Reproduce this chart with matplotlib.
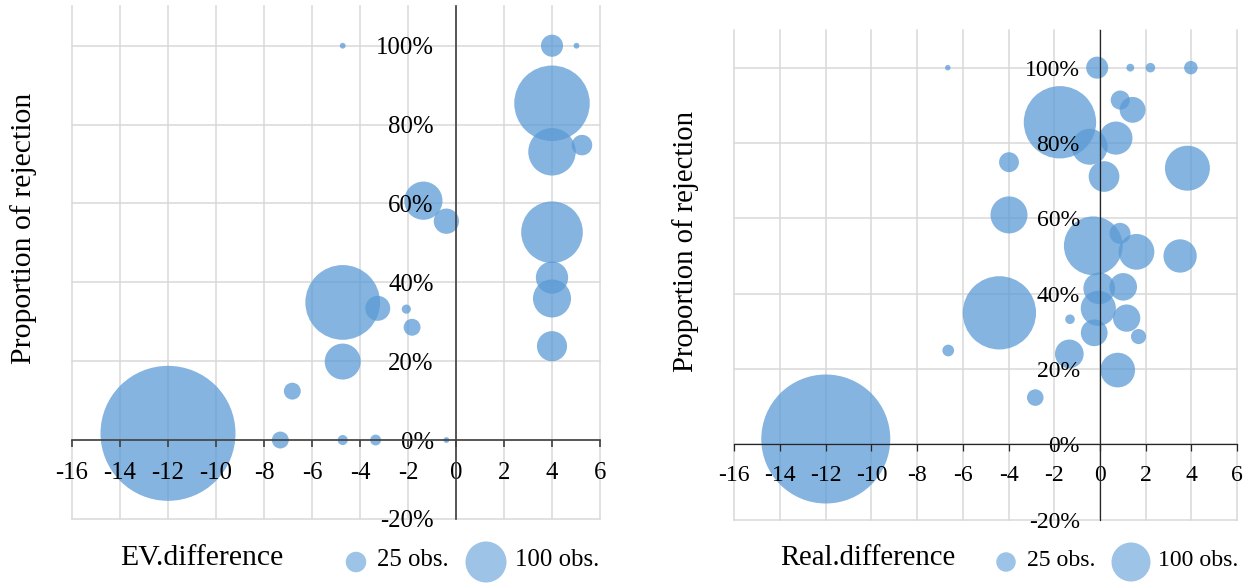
import matplotlib
matplotlib.use('Agg')
import matplotlib.pyplot as plt
from matplotlib.ticker import PercentFormatter
import numpy as np

plt.rcParams['font.family'] = ['Liberation Serif', 'DejaVu Serif']
plt.rcParams['axes.unicode_minus'] = False

# ---------------- data ----------------
# Left chart: EV.difference vs proportion of rejection, bubble = obs.
ev_x = [-4.72, 4.0, 5.02, 4.0, 4.0, 5.25, -1.36, -0.40, 4.0, 4.0, 4.0, 4.0,
        -4.72, -3.26, -2.07, -1.83, -4.72, -6.82, -12.0, -7.32, -4.72, -3.35, -0.40]
ev_y = [1.00, 1.00, 1.00, 0.854, 0.731, 0.748, 0.607, 0.555, 0.527, 0.412, 0.359, 0.238,
        0.349, 0.334, 0.332, 0.286, 0.199, 0.124, 0.017, 0.0, 0.0, 0.0, 0.0]
ev_n = [2, 29, 2, 339, 134, 25, 87, 38, 226, 62, 86, 54,
        332, 37, 5, 17, 77, 17, 1084, 17, 6, 7, 2]

# Right chart: Real.difference vs proportion of rejection
real_x = [-6.66, -0.12, 1.33, 2.21, 3.98, 0.89, 1.43, -1.75, 0.70, -0.45, 0.18,
          -3.98, 3.83, -3.98, -0.29, 0.88, 1.60, 3.51, -4.40, -0.03, 1.02, -0.07,
          1.17, -1.31, -0.25, 1.69, -6.64, -1.34, 0.78, -2.83, -12.0]
real_y = [1.00, 1.00, 1.00, 1.00, 1.00, 0.914, 0.888, 0.855, 0.813, 0.79, 0.711,
          0.749, 0.733, 0.609, 0.527, 0.560, 0.511, 0.500, 0.349, 0.414, 0.418, 0.361,
          0.335, 0.332, 0.296, 0.286, 0.249, 0.240, 0.197, 0.124, 0.014]
real_n = [2, 32, 4, 6, 12, 24, 44, 344, 72, 85, 62,
          26, 133, 90, 227, 29, 84, 73, 353, 66, 50, 81,
          49, 6, 47, 15, 9, 54, 79, 18, 1094]

x_ticks = [-16, -14, -12, -10, -8, -6, -4, -2, 0, 2, 4, 6]
y_ticks = [-0.2, 0.0, 0.2, 0.4, 0.6, 0.8, 1.0]
legend_obs = [25, 100]
legend_labels = ['25 obs.', '100 obs.']

# ---------------- figure ----------------
W, H = 1253, 584
fig = plt.figure(figsize=(W / 100, H / 100), dpi=100)

BUBBLE = '#5B9BD5'
LEG_BUBBLE = '#9DC3E6'


def rect(x0, x1, ytop, ybot):
    return [x0 / W, 1 - ybot / H, (x1 - x0) / W, (ybot - ytop) / H]


def panel(r, xs, ys, ns, k, fs_tick, ypad, xpad, spine_col, spine_lw):
    ax = fig.add_axes(r)
    ax.set_zorder(1)
    ax.set_xlim(-16, 6)
    ax.set_ylim(-0.2, 1.1)
    ax.set_xticks(x_ticks)
    ax.set_yticks(y_ticks)
    ax.grid(True, color='#D9D9D9', lw=1.1)
    for ln in ax.get_xgridlines() + ax.get_ygridlines():
        ln.set_clip_on(False)
    ax.tick_params(length=0, labelbottom=False, labelleft=False)
    for s in ax.spines.values():
        s.set_visible(False)
    ax.set_facecolor('none')
    ax.scatter(xs, ys, s=np.array(ns) * k, color=BUBBLE, alpha=0.75,
               linewidths=0, zorder=2)

    ov = fig.add_axes(r, sharex=ax, sharey=ax)
    ov.set_zorder(2)
    ov.patch.set_visible(False)
    ov.spines['top'].set_visible(False)
    ov.spines['right'].set_visible(False)
    ov.spines['left'].set_position(('data', 0))
    ov.spines['bottom'].set_position(('data', 0))
    for s in ('left', 'bottom'):
        ov.spines[s].set_color(spine_col)
        ov.spines[s].set_linewidth(spine_lw)
    ov.yaxis.set_major_formatter(PercentFormatter(1.0, decimals=0))
    ov.tick_params(axis='x', direction='out', length=5, width=spine_lw,
                   color=spine_col, labelsize=fs_tick, pad=xpad)
    ov.tick_params(axis='y', length=0, labelsize=fs_tick, pad=ypad)
    return ax


# left panel
panel(rect(72, 600, 6.3, 518.9), ev_x, ev_y, ev_n, 8.714, 17.8, 16, 11,
      '#404040', 1.2)
# right panel
panel(rect(734.4, 1237, 30.0, 519.6), real_x, real_y, real_n, 7.885, 17.1, 14.5, 10,
      '#262626', 0.9)

# axis titles
fig.text(24 / W, 1 - 228 / H, 'Proportion of rejection', rotation=90,
         ha='center', va='center', fontsize=21.4)
fig.text(686 / W, 1 - 242 / H, 'Proportion of rejection', rotation=90,
         ha='center', va='center', fontsize=20.6)
fig.text(202 / W, 1 - 558 / H, 'EV.difference', ha='center', va='center',
         fontsize=21.4)
fig.text(868 / W, 1 - 558 / H, 'Real.difference', ha='center', va='center',
         fontsize=20.6)

# size legends (drawn in a pixel-coordinate overlay)
lg = fig.add_axes([0, 0, 1, 1])
lg.set_zorder(3)
lg.set_xlim(0, W)
lg.set_ylim(H, 0)
lg.axis('off')
lg.patch.set_visible(False)
for cx, tx, k, fs in (([356, 486], [377, 515], 8.714, 17.8),
                      ([1006, 1131], [1027, 1158], 7.885, 17.1)):
    lg.scatter(cx, [562, 562], s=np.array(legend_obs) * k, color=LEG_BUBBLE,
               linewidths=0)
    for t, lab in zip(tx, legend_labels):
        lg.text(t, 560, lab, ha='left', va='center', fontsize=fs)

fig.savefig('out.png', dpi=100)
